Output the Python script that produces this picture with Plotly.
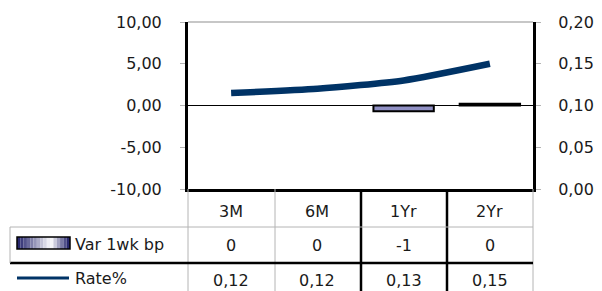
import plotly.graph_objects as go

categories = ["3M", "6M", "1Yr", "2Yr"]
var_1wk_bp = [0.0, 0.0, -0.7, 0.2]
rate_pct = [0.115, 0.12, 0.13, 0.15]
var_table = ["0", "0", "-1", "0"]
rate_table = ["0,12", "0,12", "0,13", "0,15"]
left_ticks = [-10, -5, 0, 5, 10]
left_labels = ["-10,00", "-5,00", "0,00", "5,00", "10,00"]
right_ticks = [0, 0.05, 0.10, 0.15, 0.20]
right_labels = ["0,00", "0,05", "0,10", "0,15", "0,20"]

# page body has an 8px default margin: draw the figure 8px smaller
OFF = 8
PW, PH = 602, 291
W, H = PW - OFF, PH - OFF
L, R, T, B = 188, 533, 22, 189  # plot area box in page pixels


def px(x):
    return (x - L) / (R - L)


def py(y):
    return (B - y) / (B - T)


FONT = "DejaVu Sans"
FS = 16
TXT = "#1a1a1a"
GRAY = "#b4b4b4"
NAVY = "#003366"

fig = go.Figure()
fig.add_trace(go.Bar(
    x=categories, y=var_1wk_bp, name="Var 1wk bp",
    marker=dict(color="#9090c4",
                line=dict(color="black", width=[0 if v == 0 else 2 for v in var_1wk_bp])),
    yaxis="y", showlegend=False,
))
fig.add_trace(go.Scatter(
    x=categories, y=rate_pct, name="Rate%", mode="lines",
    line=dict(color=NAVY, width=6.5, shape="spline", smoothing=0.6),
    yaxis="y2", showlegend=False,
))

shapes = []
shapes.append(dict(type="line", xref="paper", yref="paper", x0=0, x1=1, y0=1, y1=1,
                   line=dict(color=GRAY, width=1.5)))
t_top, t_r1, t_r2, t_bot = 189, 227, 263, 300
col_x = [188, 275, 361, 447, 533]
for i, cx in enumerate(col_x):
    thick = i in (2, 3)
    shapes.append(dict(type="line", xref="paper", yref="paper",
                       x0=px(cx), x1=px(cx), y0=py(t_top), y1=py(t_bot),
                       line=dict(color="black" if thick else GRAY, width=2.5 if thick else 1)))
shapes.append(dict(type="line", xref="paper", yref="paper", x0=px(10), x1=px(533),
                   y0=py(t_r1), y1=py(t_r1), line=dict(color=GRAY, width=1)))
shapes.append(dict(type="line", xref="paper", yref="paper", x0=px(10), x1=px(533),
                   y0=py(t_r2), y1=py(t_r2), line=dict(color="black", width=2.5)))
shapes.append(dict(type="line", xref="paper", yref="paper", x0=px(10), x1=px(10),
                   y0=py(t_r1), y1=py(t_r2), line=dict(color=GRAY, width=1)))

sw_x0, sw_x1, sw_y0, sw_y1 = 17, 70, 237, 249
n = 16


def lerp(c1, c2, t):
    return "rgb(%d,%d,%d)" % tuple(round(a + (b - a) * t) for a, b in zip(c1, c2))


dark = (40, 40, 110)
white = (255, 255, 255)
for k in range(n):
    t = k / (n - 1)
    c = lerp(dark, white, t / 0.65) if t < 0.65 else lerp(white, dark, (t - 0.65) / 0.35)
    xa = sw_x0 + (sw_x1 - sw_x0) * k / n
    xb = sw_x0 + (sw_x1 - sw_x0) * (k + 1) / n
    shapes.append(dict(type="rect", xref="paper", yref="paper", x0=px(xa), x1=px(xb),
                       y0=py(sw_y1), y1=py(sw_y0), line=dict(width=0), fillcolor=c))
shapes.append(dict(type="rect", xref="paper", yref="paper", x0=px(sw_x0), x1=px(sw_x1),
                   y0=py(sw_y1), y1=py(sw_y0), line=dict(color="black", width=1.5)))
shapes.append(dict(type="line", xref="paper", yref="paper", x0=px(17), x1=px(69),
                   y0=py(278), y1=py(278), line=dict(color=NAVY, width=3)))

annotations = []
for cat, v, r in zip(categories, var_table, rate_table):
    for txt, yy in ((cat, 211), (v, 245), (r, 280)):
        annotations.append(dict(x=cat, xref="x", y=py(yy), yref="paper", text=txt,
                                showarrow=False, xanchor="center", yanchor="middle",
                                font=dict(family=FONT, size=FS, color=TXT)))
for txt, yy in (("Var 1wk bp", 244), ("Rate%", 278)):
    annotations.append(dict(x=px(73), xref="paper", y=py(yy), yref="paper", text=txt,
                            showarrow=False, xanchor="left", yanchor="middle",
                            font=dict(family=FONT, size=FS, color=TXT)))

fig.update_layout(
    width=W, height=H, autosize=False,
    margin=dict(l=L - OFF, r=PW - R, t=T - OFF, b=PH - B, pad=0, autoexpand=False),
    paper_bgcolor="white", plot_bgcolor="white",
    bargap=0.3,
    font=dict(family=FONT, size=FS, color=TXT),
    xaxis=dict(type="category", showticklabels=False, showgrid=False, zeroline=False,
               showline=True, linecolor="black", linewidth=3, ticks="", automargin=False),
    yaxis=dict(range=[-10, 10], tickvals=left_ticks, ticktext=left_labels, showgrid=False,
               zeroline=True, zerolinecolor="black", zerolinewidth=1,
               showline=True, linecolor="black", linewidth=3,
               ticks="outside", ticklen=5, tickcolor=GRAY, tickwidth=1,
               ticklabelstandoff=15, automargin=False),
    yaxis2=dict(range=[0, 0.2], tickvals=right_ticks, ticktext=right_labels, overlaying="y",
                side="right", showgrid=False, zeroline=False,
                showline=True, linecolor="black", linewidth=3,
                ticks="outside", ticklen=5, tickcolor=GRAY, tickwidth=1,
                ticklabelstandoff=14, automargin=False),
    shapes=shapes, annotations=annotations,
)
fig.write_html("out.html")
